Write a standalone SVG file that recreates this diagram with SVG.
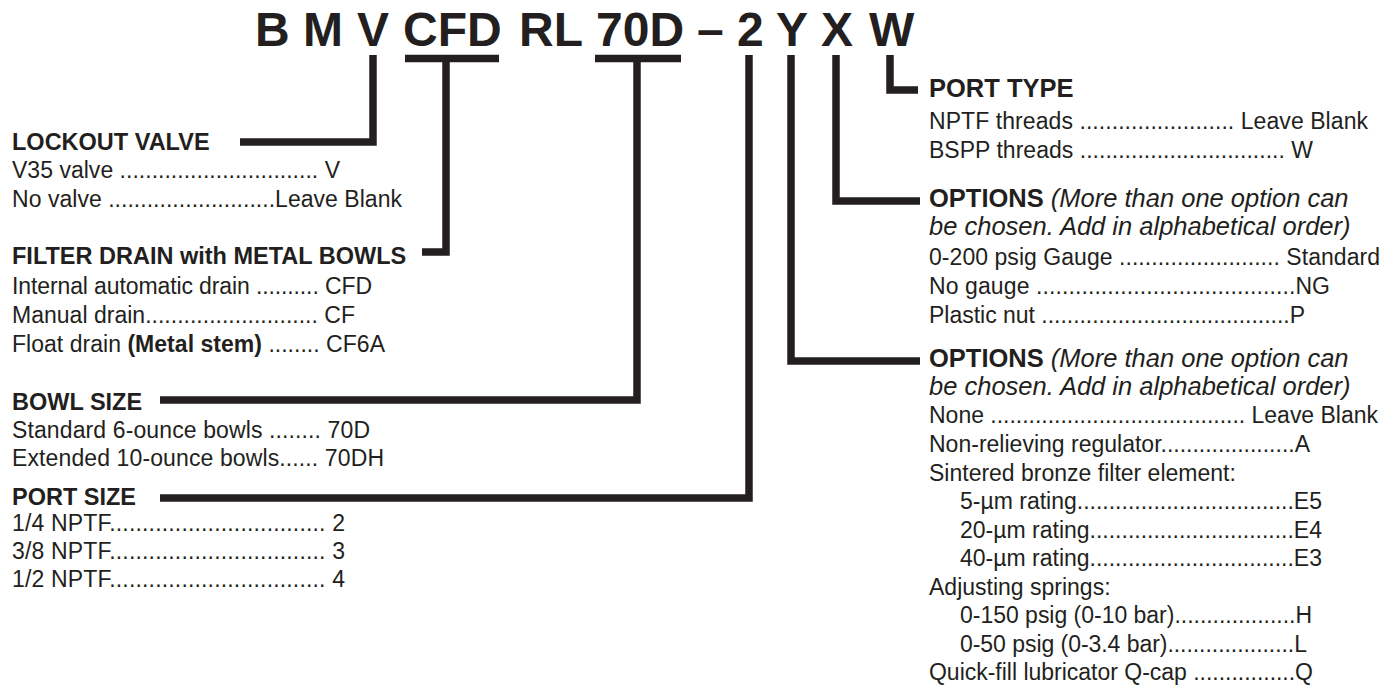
<svg xmlns="http://www.w3.org/2000/svg" width="1398" height="694" viewBox="0 0 1398 694">
<style>
.t{font-family:"Liberation Sans",Arial,Helvetica,sans-serif;fill:#231f20}
.title{font-size:48px;font-weight:bold}
.h{font-size:23.5px;font-weight:bold}
.hr{font-size:25.5px;font-weight:bold}
.b{font-size:23px}
.i{font-style:italic;font-weight:normal}
.bd{font-weight:bold}
.ln{fill:none;stroke:#231f20;stroke-width:7.5;stroke-linejoin:miter;stroke-linecap:butt}
</style>
<rect width="1398" height="694" fill="#ffffff"/>
<g id="title">
<text class="t title" y="46"><tspan x="255">B</tspan> <tspan x="303">M</tspan> <tspan x="357">V</tspan> <tspan x="403">CFD</tspan> <tspan x="519">RL</tspan> <tspan x="596">70D</tspan> <tspan x="697">–</tspan> <tspan x="737">2</tspan> <tspan x="776">Y</tspan> <tspan x="821">X</tspan> <tspan x="869">W</tspan></text>
</g>
<g id="connectors">
<path class="ln" d="M405,58.5 H499"/>
<path class="ln" d="M595,58.5 H681"/>
<path class="ln" d="M373,55 V142 H240"/>
<path class="ln" d="M446,62 V252 H422"/>
<path class="ln" d="M637,62 V400 H160"/>
<path class="ln" d="M749,55 V498 H160"/>
<path class="ln" d="M791,55 V361 H920"/>
<path class="ln" d="M836,55 V201 H920"/>
<path class="ln" d="M890,55 V90 H918"/>
</g>
<g id="lockout-valve">
<text class="t h" x="12" y="150">LOCKOUT VALVE</text>
<text class="t b" x="12" y="178" textLength="328" lengthAdjust="spacing">V35 valve ............................... V</text>
<text class="t b" x="12" y="207" textLength="390" lengthAdjust="spacing">No valve ..........................Leave Blank</text>
</g>
<g id="filter-drain">
<text class="t h" x="12" y="264">FILTER DRAIN with METAL BOWLS</text>
<text class="t b" x="12" y="294" textLength="360" lengthAdjust="spacing">Internal automatic drain .......... CFD</text>
<text class="t b" x="12" y="323" textLength="343" lengthAdjust="spacing">Manual drain........................... CF</text>
<text class="t b" x="12" y="352" textLength="373" lengthAdjust="spacing">Float drain <tspan class="bd">(Metal stem)</tspan> ........ CF6A</text>
</g>
<g id="bowl-size">
<text class="t h" x="12" y="410">BOWL SIZE</text>
<text class="t b" x="12" y="438" textLength="358" lengthAdjust="spacing">Standard 6-ounce bowls ........ 70D</text>
<text class="t b" x="12" y="466" textLength="372" lengthAdjust="spacing">Extended 10-ounce bowls...... 70DH</text>
</g>
<g id="port-size">
<text class="t h" x="12" y="505">PORT SIZE</text>
<text class="t b" x="12" y="531" textLength="333" lengthAdjust="spacing">1/4 NPTF................................. 2</text>
<text class="t b" x="12" y="559" textLength="333" lengthAdjust="spacing">3/8 NPTF................................. 3</text>
<text class="t b" x="12" y="587" textLength="333" lengthAdjust="spacing">1/2 NPTF................................. 4</text>
</g>
<g id="port-type">
<text class="t hr" x="929" y="97">PORT TYPE</text>
<text class="t b" x="929" y="129" textLength="439" lengthAdjust="spacing">NPTF threads ........................ Leave Blank</text>
<text class="t b" x="929" y="158" textLength="384" lengthAdjust="spacing">BSPP threads ................................ W</text>
</g>
<g id="options-x">
<text class="t hr" x="929" y="207">OPTIONS<tspan class="i"> (More than one option can</tspan></text>
<text class="t hr i" x="929" y="235">be chosen. Add in alphabetical order)</text>
<text class="t b" x="929" y="265" textLength="451" lengthAdjust="spacing">0-200 psig Gauge ......................... Standard</text>
<text class="t b" x="929" y="294" textLength="401" lengthAdjust="spacing">No gauge ........................................NG</text>
<text class="t b" x="929" y="323" textLength="376" lengthAdjust="spacing">Plastic nut .......................................P</text>
</g>
<g id="options-y">
<text class="t hr" x="929" y="367">OPTIONS<tspan class="i"> (More than one option can</tspan></text>
<text class="t hr i" x="929" y="395">be chosen. Add in alphabetical order)</text>
<text class="t b" x="929" y="423" textLength="449" lengthAdjust="spacing">None ........................................ Leave Blank</text>
<text class="t b" x="929" y="452" textLength="381" lengthAdjust="spacing">Non-relieving regulator.....................A</text>
<text class="t b" x="929" y="481">Sintered bronze filter element:</text>
<text class="t b" x="960" y="509" textLength="362" lengthAdjust="spacing">5-µm rating..................................E5</text>
<text class="t b" x="960" y="538" textLength="362" lengthAdjust="spacing">20-µm rating................................E4</text>
<text class="t b" x="960" y="566" textLength="362" lengthAdjust="spacing">40-µm rating................................E3</text>
<text class="t b" x="929" y="595">Adjusting springs:</text>
<text class="t b" x="960" y="623" textLength="352" lengthAdjust="spacing">0-150 psig (0-10 bar)...................H</text>
<text class="t b" x="960" y="652" textLength="347" lengthAdjust="spacing">0-50 psig (0-3.4 bar)....................L</text>
<text class="t b" x="929" y="680" textLength="384" lengthAdjust="spacing">Quick-fill lubricator Q-cap ................Q</text>
</g>
</svg>
